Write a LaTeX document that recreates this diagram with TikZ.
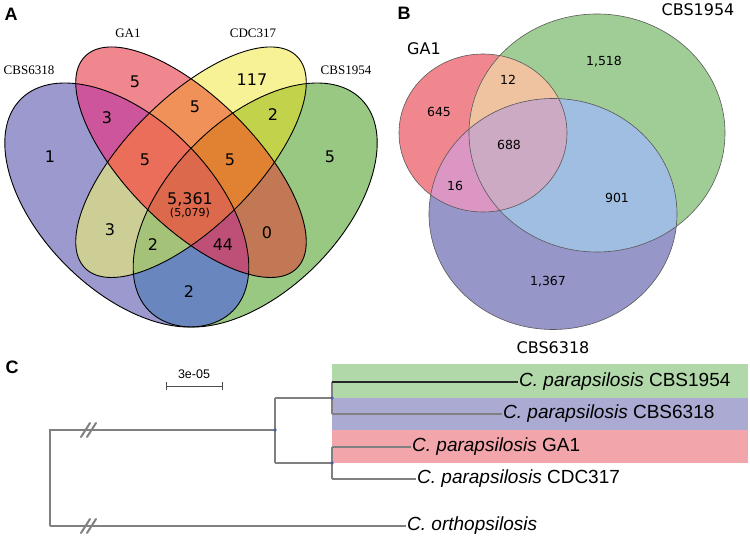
\documentclass[tikz,border=0pt]{standalone}
\usepackage{fontspec}
\setmainfont{Liberation Sans}
\newfontfamily\dvs{DejaVu Sans}
\newfontfamily\lserif{Liberation Serif}
% panel A colours
\definecolor{aP}{HTML}{9B99CD}
\definecolor{aR}{HTML}{F0878F}
\definecolor{aY}{HTML}{F8F296}
\definecolor{aG}{HTML}{98C882}
\definecolor{aPR}{HTML}{CD559B}
\definecolor{aPY}{HTML}{CDCD96}
\definecolor{aPG}{HTML}{6987BE}
\definecolor{aRY}{HTML}{F0915A}
\definecolor{aRG}{HTML}{C37855}
\definecolor{aYG}{HTML}{C3D24B}
\definecolor{aPRY}{HTML}{EB6E5A}
\definecolor{aPRG}{HTML}{BE5078}
\definecolor{aPYG}{HTML}{A5C378}
\definecolor{aRYG}{HTML}{E18232}
\definecolor{aPRYG}{HTML}{DC694B}
% panel B colours
\definecolor{bR}{HTML}{F0878F}
\definecolor{bG}{HTML}{A0CD96}
\definecolor{bP}{HTML}{9696C8}
\definecolor{bRG}{HTML}{F0C3A0}
\definecolor{bRP}{HTML}{DC96C3}
\definecolor{bGP}{HTML}{A0BEE1}
\definecolor{bRGP}{HTML}{CDAAC3}
% panel C colours
\definecolor{cG}{HTML}{B0D8A8}
\definecolor{cP}{HTML}{AAAAD2}
\definecolor{cR}{HTML}{F2A5AA}
\definecolor{brgray}{HTML}{808080}
\definecolor{dotblue}{HTML}{4A5AA8}
% ellipse helpers: #1 command, #2 options
\newcommand\ellV[7]{#1[#2,rotate around={#7:(#3,#4)}] (#3,#4) ellipse [x radius=#5, y radius=#6];}
\newcommand\ellP[2]{\ellV{#1}{#2}{-0.15}{0.285}{0.35}{0.2}{-45}}
\newcommand\ellR[2]{\ellV{#1}{#2}{0}{0.385}{0.35}{0.15}{-45}}
\newcommand\ellY[2]{\ellV{#1}{#2}{0}{0.385}{0.35}{0.15}{45}}
\newcommand\ellG[2]{\ellV{#1}{#2}{0.15}{0.285}{0.35}{0.2}{45}}
\newcommand\cirR[2]{#1[#2] (483,-133) ellipse [x radius=84, y radius=79];}
\newcommand\cirG[2]{#1[#2] (597,-133) ellipse [x radius=128, y radius=119];}
\newcommand\cirP[2]{#1[#2] (553,-214) ellipse [x radius=124, y radius=115.5];}
\begin{document}
\begin{tikzpicture}[x=1pt,y=1pt,
  vnum/.style={font=\dvs\fontsize{16}{18}\selectfont, inner sep=0pt},
  vsmall/.style={font=\dvs\fontsize{11}{13}\selectfont, inner sep=0pt},
  vlab/.style={font=\lserif\fontsize{13}{15}\selectfont, inner sep=0pt},
  bnum/.style={font=\dvs\fontsize{12.5}{14}\selectfont, inner sep=0pt},
  blab/.style={font=\dvs\fontsize{16}{18}\selectfont, inner sep=0pt},
  plab/.style={font=\bfseries\fontsize{18}{20}\selectfont, inner sep=0pt},
  leaf/.style={font=\fontsize{19}{23}\selectfont, anchor=west, inner xsep=1pt, inner ysep=0pt},
  br/.style={draw=brgray, line width=1.4pt},
  ndot/.style={circle, fill=dotblue, inner sep=0pt, minimum size=3.5pt},
  vline/.style={draw=black, line width=0.9pt},
  bline/.style={draw=black!65, line width=0.6pt}]
\useasboundingbox (0,0) rectangle (750,-540);

% ---------------- Panel A ----------------
\node[plab] (pA) at (11,-14) {A};
\begin{scope}[shift={(191,-327)}, x=428pt, y=428pt]
  \ellP\fill{aP} \ellR\fill{aR} \ellY\fill{aY} \ellG\fill{aG}
  \begin{scope}\ellP\clip{}\ellR\fill{aPR}\end{scope}
  \begin{scope}\ellP\clip{}\ellY\fill{aPY}\end{scope}
  \begin{scope}\ellP\clip{}\ellG\fill{aPG}\end{scope}
  \begin{scope}\ellR\clip{}\ellY\fill{aRY}\end{scope}
  \begin{scope}\ellR\clip{}\ellG\fill{aRG}\end{scope}
  \begin{scope}\ellY\clip{}\ellG\fill{aYG}\end{scope}
  \begin{scope}\ellP\clip{}\ellR\clip{}\ellY\fill{aPRY}\end{scope}
  \begin{scope}\ellP\clip{}\ellR\clip{}\ellG\fill{aPRG}\end{scope}
  \begin{scope}\ellP\clip{}\ellY\clip{}\ellG\fill{aPYG}\end{scope}
  \begin{scope}\ellR\clip{}\ellY\clip{}\ellG\fill{aRYG}\end{scope}
  \begin{scope}\ellP\clip{}\ellR\clip{}\ellY\clip{}\ellG\fill{aPRYG}\end{scope}
  \ellP\draw{vline} \ellR\draw{vline} \ellY\draw{vline} \ellG\draw{vline}
\end{scope}
\node[vlab] (lGA1) at (128,-33) {GA1};
\node[vlab] (lCDC) at (253,-33) {CDC317};
\node[vlab] (lC6318) at (29,-70) {CBS6318};
\node[vlab] (lC1954) at (346,-70) {CBS1954};
\node[vnum] (nR) at (135,-82) {5};
\node[vnum] (nY) at (252,-80) {117};
\node[vnum] (nPR) at (107,-118) {3};
\node[vnum] (nRY) at (195,-107) {5};
\node[vnum] (nYG) at (273,-115) {2};
\node[vnum] (nP) at (50,-157) {1};
\node[vnum] (nPRY) at (145,-160) {5};
\node[vnum] (nRYG) at (230,-160) {5};
\node[vnum] (nG) at (330,-157) {5};
\node[vnum] (nAll) at (190,-199) {5,361};
\node[vsmall] (nAll2) at (190,-213) {(5,079)};
\node[vnum] (nPY) at (110,-230) {3};
\node[vnum] (nPYG) at (153,-245) {2};
\node[vnum] (nPRG) at (223,-245) {44};
\node[vnum] (nRG) at (267,-233) {0};
\node[vnum] (nPG) at (189,-292) {2};

% ---------------- Panel B ----------------
\node[plab] (pB) at (404,-13) {B};
\cirR\fill{bR} \cirG\fill{bG} \cirP\fill{bP}
\begin{scope}\cirR\clip{}\cirG\fill{bRG}\end{scope}
\begin{scope}\cirR\clip{}\cirP\fill{bRP}\end{scope}
\begin{scope}\cirG\clip{}\cirP\fill{bGP}\end{scope}
\begin{scope}\cirR\clip{}\cirG\clip{}\cirP\fill{bRGP}\end{scope}
\cirR\draw{bline} \cirG\draw{bline} \cirP\draw{bline}
\node[blab] (bGA1) at (424,-49) {GA1};
\node[blab] (b1954) at (698,-10) {CBS1954};
\node[blab] (b6318) at (553,-348) {CBS6318};
\node[bnum] (b1518) at (604,-62) {1,518};
\node[bnum] (b12) at (508,-80) {12};
\node[bnum] (b645) at (439,-112) {645};
\node[bnum] (b688) at (509,-145) {688};
\node[bnum] (b16) at (455,-186) {16};
\node[bnum] (b901) at (617,-198) {901};
\node[bnum] (b1367) at (548,-282) {1,367};

% ---------------- Panel C ----------------
\node[plab] (pC) at (12,-367) {C};
\fill[cG] (332,-364) rectangle (748,-398);
\fill[cP] (332,-398) rectangle (748,-430);
\fill[cR] (332,-430) rectangle (748,-463);
% scale bar
\coordinate (s1) at (166,-386);
\coordinate (s2) at (222,-386);
\draw[draw=black!70, line width=0.8pt] (s1) -- (s2);
\draw[draw=black!70, line width=0.8pt] ([yshift=4pt]s1) -- ([yshift=-4pt]s1);
\draw[draw=black!70, line width=0.8pt] ([yshift=4pt]s2) -- ([yshift=-4pt]s2);
\node[font=\fontsize{12.5}{14}\selectfont, inner sep=0pt] (sl) at (194,-374) {3e-05};
% tree coordinates
\coordinate (r0) at (50,-430);
\coordinate (r1) at (50,-526);
\coordinate (n1) at (275,-430);
\coordinate (n1t) at (275,-398);
\coordinate (n1b) at (275,-463);
\coordinate (n2) at (332,-398);
\coordinate (n3) at (332,-463);
\coordinate (a1) at (332,-382);
\coordinate (a2) at (332,-414);
\coordinate (a3) at (332,-447);
\coordinate (a4) at (332,-479);
% leaf labels
\node[leaf] (l1954) at (518,-382) {\textit{C. parapsilosis} CBS1954};
\node[leaf] (l6318) at (502,-414) {\textit{C. parapsilosis} CBS6318};
\node[leaf] (lga1) at (411,-447) {\textit{C. parapsilosis} GA1};
\node[leaf] (lcdc) at (416,-479) {\textit{C. parapsilosis} CDC317};
\node[leaf] (lor) at (406,-526) {\textit{C. orthopsilosis}};
% branches
\draw[br] (r1) -- (r0) -- (n1);
\draw[br] (n1t) -- (n1b);
\draw[br] (n1t) -- (n2);
\draw[br] (n1b) -- (n3);
\draw[br] (a1) -- (a2);
\draw[br] (a3) -- (a4);
\draw[draw=black!85, line width=1.6pt] (a1) -- (l1954.west);
\draw[br] (a2) -- (l6318.west);
\draw[br] (a3) -- (lga1.west);
\draw[br] (a4) -- (lcdc.west);
\draw[br] (r1) -- (lor.west);
% break marks
\foreach \yy in {-430,-526}{
  \draw[draw=brgray, line width=2pt, line cap=round] (81,\yy-7) -- (90,\yy+7);
  \draw[draw=brgray, line width=2pt, line cap=round] (87,\yy-7) -- (96,\yy+7);
}
\node[ndot] (d1) at (n1) {};
\node[ndot] (d2) at (n2) {};
\node[ndot] (d3) at (n3) {};
\end{tikzpicture}
\end{document}
